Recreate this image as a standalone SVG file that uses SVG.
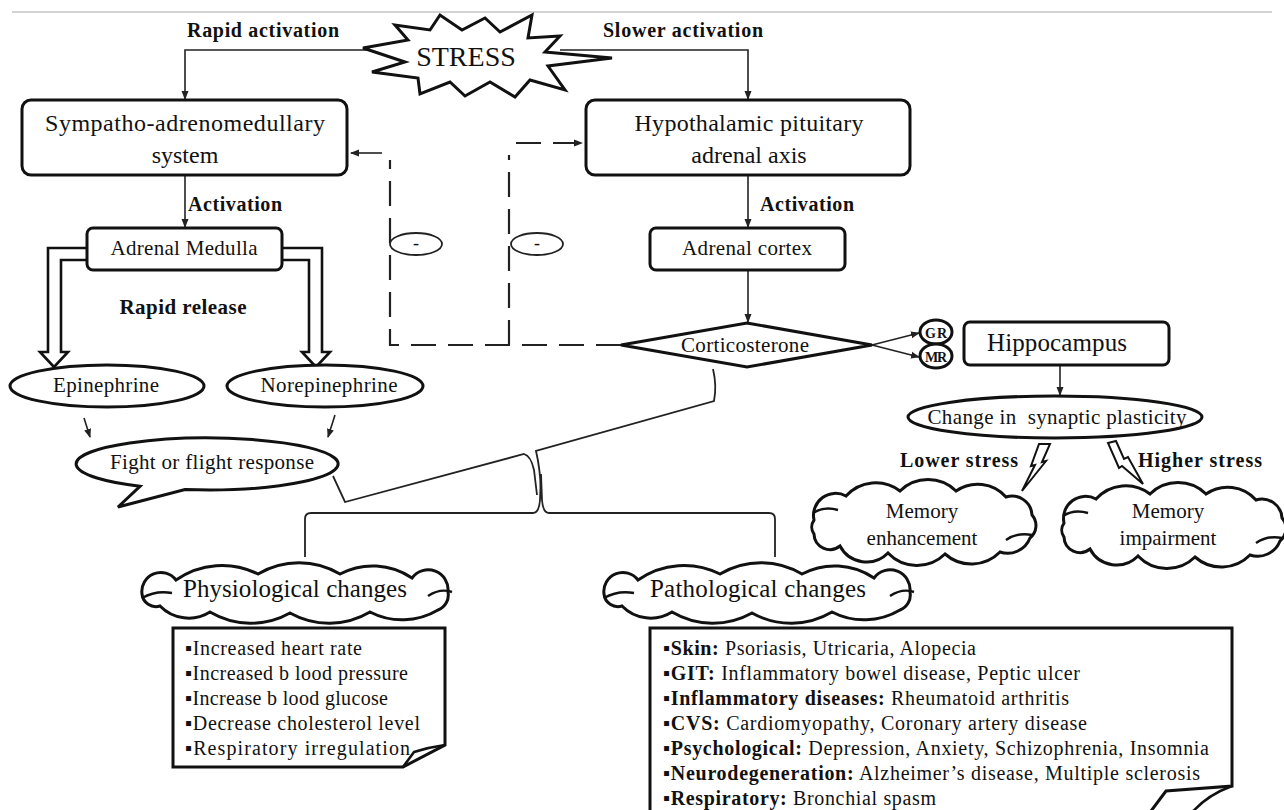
<svg xmlns="http://www.w3.org/2000/svg" width="1284" height="810" viewBox="0 0 1284 810">
<defs>
<style>
text{font-family:"Liberation Serif","Times New Roman","DejaVu Serif",serif;fill:#111}
.b{font-weight:bold}
.c{text-anchor:middle}
.box{fill:#fff;stroke:#111;stroke-width:3}
.thin{fill:#fff;stroke:#111;stroke-width:2}
.ln{fill:none;stroke:#222;stroke-width:1.6}
.br{fill:none;stroke:#222;stroke-width:1.8}
.dash{fill:none;stroke:#222;stroke-width:2.2;stroke-dasharray:25 12}
.hol{fill:none;stroke:#111;stroke-width:2.6}
.hook{fill:none;stroke:#111;stroke-width:2.4}
</style>
<marker id="ah" markerWidth="9" markerHeight="8" refX="8" refY="4" orient="auto" markerUnits="userSpaceOnUse"><path d="M0,0.5 L9,4 L0,7.5 Z" fill="#222"/></marker>
<g id="cloudM">
<path d="M 814 520 A 22 22 0 0 1 846 496 A 40 40 0 0 1 900 491 A 40 40 0 0 1 956 491 A 38 38 0 0 1 1006 497 A 20 20 0 0 1 1032 515 A 16 16 0 0 1 1030 538 A 24 24 0 0 1 1000 552 A 40 40 0 0 1 945 554 A 40 40 0 0 1 888 553 A 30 30 0 0 1 840 546 A 16 16 0 0 1 814 534 A 12 12 0 0 1 814 520 Z" class="box"/>
<path d="M 813 513 Q 824 506 838 510" class="hook"/>
<path d="M 1006 540 Q 1018 532 1032 535" class="hook"/>
</g>
<g id="cloudP">
<path d="M 142 594 A 19 19 0 0 1 176 580 A 80 80 0 0 1 258 574 A 80 80 0 0 1 340 574 A 70 70 0 0 1 412 578 A 20 20 0 0 1 448 592 A 16 16 0 0 1 438 610 A 70 70 0 0 1 370 612 A 80 80 0 0 1 290 613 A 80 80 0 0 1 210 612 A 40 40 0 0 1 160 606 A 14 14 0 0 1 142 594 Z" class="box"/>
<path d="M 142 598 Q 156 590 172 593" class="hook"/>
<path d="M 428 596 Q 440 588 452 592" class="hook"/>
</g>
</defs>
<rect width="1284" height="810" fill="#fff"/>
<line x1="12" y1="12" x2="1272" y2="12" stroke="#c4c4c4" stroke-width="1.5"/>

<g id="connectors">
<path class="ln" d="M 380 50 L 185 50 L 185 99" marker-end="url(#ah)"/>
<path class="ln" d="M 560 50 L 748 50 L 748 99" marker-end="url(#ah)"/>
<path class="ln" d="M 185 175 L 185 227" marker-end="url(#ah)"/>
<path class="ln" d="M 748 175 L 748 227" marker-end="url(#ah)"/>
<path class="ln" d="M 748 270 L 748 322" marker-end="url(#ah)"/>
<path class="ln" d="M 872 345 L 919 333" marker-end="url(#ah)"/>
<path class="ln" d="M 872 345 L 919 357" marker-end="url(#ah)"/>
<path class="ln" d="M 1060 365 L 1060 395" marker-end="url(#ah)"/>
<path class="ln" d="M 84 418 L 90 437" marker-end="url(#ah)"/>
<path class="ln" d="M 335 415 L 328 437" marker-end="url(#ah)"/>
<path class="hol" d="M 87 248 L 48 248 L 48 352 L 40 352 L 54 367 L 68 352 L 61 352 L 61 260 L 87 260"/>
<path class="hol" d="M 282 248 L 322 248 L 322 352 L 330 352 L 316 367 L 302 352 L 309 352 L 309 260 L 282 260"/>
<path class="dash" d="M 621 345 L 390 345 L 390 160"/>
<path class="dash" d="M 509 345 L 509 155"/>
<path class="dash" d="M 516 143 L 582 143" marker-end="url(#ah)"/>
<path class="ln" d="M 382 153 L 351 153" marker-end="url(#ah)"/>
<path class="br" d="M 333 476 L 345 502 L 524 454 Q 531 456 534 470 L 537 495"/>
<path class="br" d="M 713 369 Q 717 386 714 401 L 536 451 Q 540 468 541 490"/>
<path class="br" d="M 305 557 L 305 519 Q 305 513 311 513 L 533 513 Q 539 513 540 500 L 541 474 L 542 500 Q 543 513 549 513 L 769 513 Q 775 513 775 519 L 775 557"/>
</g>

<g id="stress">
<polygon class="box" points="363,48 408,40 395,25 430,30 440,15 462,30 485,18 500,32 532,15 528,38 560,36 545,52 612,58 548,66 565,90 530,80 515,97 490,82 465,96 450,82 420,94 418,78 372,72 405,62"/>
<text x="466" y="66" class="c" font-size="28">STRESS</text>
</g>
<g id="label-rapid"><text x="263" y="37" class="b c" font-size="20" textLength="152">Rapid activation</text></g>
<g id="label-slower"><text x="683" y="37" class="b c" font-size="20" textLength="160">Slower activation</text></g>

<g id="sympatho">
<rect class="box" x="22" y="100" width="325" height="75" rx="9"/>
<text x="185" y="131" class="c" font-size="24" textLength="280">Sympatho-adrenomedullary</text>
<text x="185" y="163" class="c" font-size="24">system</text>
</g>
<g id="hpa">
<rect class="box" x="586" y="100" width="324" height="75" rx="9"/>
<text x="749" y="131" class="c" font-size="24" textLength="229">Hypothalamic pituitary</text>
<text x="749" y="163" class="c" font-size="24">adrenal axis</text>
</g>
<g id="label-act1"><text x="235" y="211" class="b c" font-size="20" textLength="94">Activation</text></g>
<g id="label-act2"><text x="807" y="211" class="b c" font-size="20" textLength="94">Activation</text></g>

<g id="adrenal-medulla">
<rect class="box" x="87" y="228" width="195" height="42" rx="6"/>
<text x="184" y="255" class="c" font-size="21" textLength="147">Adrenal Medulla</text>
</g>
<g id="adrenal-cortex">
<rect class="box" x="650" y="228" width="195" height="42" rx="6"/>
<text x="747" y="255" class="c" font-size="21" textLength="130">Adrenal cortex</text>
</g>
<g id="label-release"><text x="183" y="314" class="b c" font-size="21" textLength="127">Rapid release</text></g>

<g id="minus1">
<ellipse cx="416" cy="244" rx="26" ry="11" fill="#fff" stroke="#222" stroke-width="1.8"/>
<text x="416" y="249" class="c" font-size="18">-</text>
</g>
<g id="minus2">
<ellipse cx="537" cy="244" rx="26" ry="11" fill="#fff" stroke="#222" stroke-width="1.8"/>
<text x="537" y="249" class="c" font-size="18">-</text>
</g>

<g id="corticosterone">
<polygon class="box" points="621,345 747,323 872,345 747,367"/>
<text x="745" y="352" class="c" font-size="21" textLength="128">Corticosterone</text>
</g>
<g id="gr">
<ellipse class="box" cx="936" cy="332" rx="16" ry="12"/>
<text x="936" y="337.5" class="b c" font-size="14" textLength="22">GR</text>
</g>
<g id="mr">
<ellipse class="box" cx="936" cy="356" rx="16" ry="12"/>
<text x="936" y="361.5" class="b c" font-size="14" textLength="22">MR</text>
</g>
<g id="hippocampus">
<rect class="box" x="964" y="322" width="205" height="43" rx="6"/>
<text x="1057" y="351" class="c" font-size="25" textLength="140">Hippocampus</text>
</g>
<g id="synaptic">
<ellipse class="box" cx="1055" cy="417" rx="147" ry="21"/>
<text x="1057" y="424" class="c" font-size="21" textLength="259" xml:space="preserve">Change in  synaptic plasticity</text>
</g>

<g id="epinephrine">
<ellipse class="box" cx="107" cy="386" rx="97" ry="21"/>
<text x="106" y="392" class="c" font-size="21" textLength="106">Epinephrine</text>
</g>
<g id="norepinephrine">
<ellipse class="box" cx="325" cy="386" rx="98" ry="21"/>
<text x="329" y="392" class="c" font-size="21" textLength="137">Norepinephrine</text>
</g>
<g id="fight">
<path class="box" d="M 185 489.6 A 131 26 0 1 0 140 486.3 L 118 507 Z"/>
<text x="212" y="469" class="c" font-size="21" textLength="204">Fight or flight response</text>
</g>

<g id="bolt-lower">
<polygon class="thin" points="1039,444 1050,444 1042,462 1046,461 1022,491 1035,465 1031,466"/>
<text x="959" y="467" class="b c" font-size="20" textLength="118">Lower stress</text>
</g>
<g id="bolt-higher">
<polygon class="thin" points="1108,443 1116,441 1124,459 1128,457 1143,484 1122,466 1119,468"/>
<text x="1200" y="467" class="b c" font-size="20" textLength="124">Higher stress</text>
</g>

<g id="memory-enhancement">
<use href="#cloudM"/>
<text x="922" y="518" class="c" font-size="21">Memory</text>
<text x="922" y="545" class="c" font-size="21">enhancement</text>
</g>
<g id="memory-impairment">
<use href="#cloudM" transform="translate(250,3)"/>
<text x="1168" y="518" class="c" font-size="21">Memory</text>
<text x="1168" y="545" class="c" font-size="21">impairment</text>
</g>

<g id="physiological">
<use href="#cloudP"/>
<text x="183" y="597" font-size="25" textLength="224">Physiological changes</text>
<path class="box" d="M 173 628 L 445 628 L 445 745 L 403 767 L 173 767 Z"/>
<path class="hol" d="M 403 767 L 414 752 Q 430 747 445 745"/>
<text x="185" y="655" font-size="20" textLength="177">▪Increased heart rate</text>
<text x="185" y="680" font-size="20" textLength="223">▪Increased b lood pressure</text>
<text x="185" y="705" font-size="20" textLength="203">▪Increase b lood glucose</text>
<text x="185" y="730" font-size="20" textLength="235">▪Decrease cholesterol level</text>
<text x="185" y="755" font-size="20" textLength="225">▪Respiratory irregulation</text>
</g>

<g id="pathological">
<use href="#cloudP" transform="translate(462,0)"/>
<text x="650" y="597" font-size="25" textLength="216">Pathological changes</text>
<path class="box" d="M 650 815 L 650 628 L 1232 628 L 1232 786 L 1166 791 L 1148 815"/>
<path class="hol" d="M 1232 786 Q 1205 796 1190 815"/>
<text x="663" y="655" font-size="20" textLength="313">▪<tspan class="b">Skin:</tspan> Psoriasis, Utricaria, Alopecia</text>
<text x="663" y="680" font-size="20" textLength="417">▪<tspan class="b">GIT:</tspan> Inflammatory bowel disease, Peptic ulcer</text>
<text x="663" y="705" font-size="20" textLength="406">▪<tspan class="b">Inflammatory diseases:</tspan> Rheumatoid arthritis</text>
<text x="663" y="730" font-size="20" textLength="424">▪<tspan class="b">CVS:</tspan> Cardiomyopathy, Coronary artery disease</text>
<text x="663" y="755" font-size="20" textLength="546">▪<tspan class="b">Psychological:</tspan> Depression, Anxiety, Schizophrenia, Insomnia</text>
<text x="663" y="780" font-size="20" textLength="537">▪<tspan class="b">Neurodegeneration:</tspan> Alzheimer’s disease, Multiple sclerosis</text>
<text x="663" y="805" font-size="20" textLength="273">▪<tspan class="b">Respiratory:</tspan> Bronchial spasm</text>
</g>
</svg>
